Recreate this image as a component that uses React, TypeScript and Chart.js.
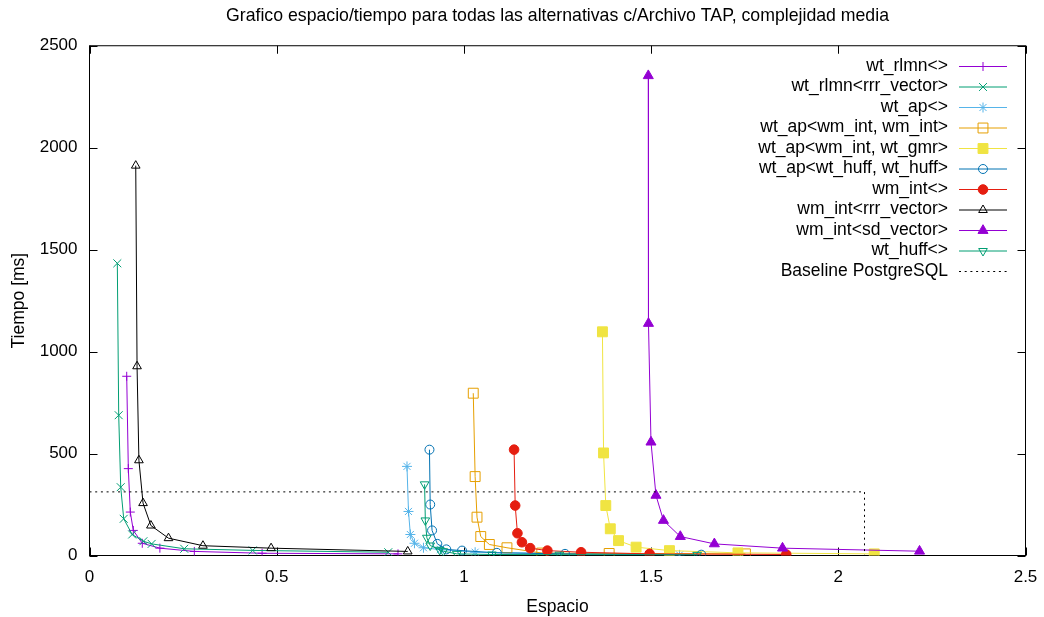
import React, { useEffect, useRef } from 'react';
import { Chart, registerables } from 'chart.js';
import { drawPoint } from 'chart.js/helpers';

Chart.register(...registerables);

const TITLE = 'Grafico espacio/tiempo para todas las alternativas c/Archivo TAP, complejidad media';
const X_LABEL = 'Espacio';
const Y_LABEL = 'Tiempo [ms]';

const rlmnX = [0.0994, 0.1037, 0.109, 0.117, 0.141, 0.188, 0.28, 0.461, 0.824];
const rlmnY = [879, 426, 213, 123, 60, 36, 20, 11, 8];

const rlmnRrrX = [0.0743, 0.078, 0.0834, 0.0914, 0.114, 0.144, 0.166, 0.253, 0.436, 0.798];
const rlmnRrrY = [1433, 688, 335, 180, 103, 70, 57, 33, 25, 16];

const apX = [0.848, 0.852, 0.857, 0.868, 0.892, 0.937, 1.03, 1.576];
const apY = [437, 216, 103, 60, 38, 29, 16, 3];

const apIntIntX = [1.025, 1.03, 1.035, 1.045, 1.068, 1.115, 1.208, 1.388, 1.752];
const apIntIntY = [796, 387, 188, 93, 54, 38, 12, 10, 8];

const apIntGmrX = [1.37, 1.373, 1.379, 1.391, 1.413, 1.46, 1.549, 1.732, 2.096];
const apIntGmrY = [1097, 503, 245, 131, 73, 41, 24, 13, 8];

const apHuffX = [0.908, 0.91, 0.915, 0.929, 0.953, 0.995, 1.088, 1.27, 1.634];
const apHuffY = [519, 250, 123, 57, 30, 24, 13, 8, 4];

const wmIntX = [1.134, 1.137, 1.143, 1.155, 1.177, 1.223, 1.313, 1.496, 1.861];
const wmIntY = [519, 245, 109, 65, 36, 24, 16, 8, 5];

const wmRrrX = [0.1235, 0.127, 0.132, 0.143, 0.164, 0.211, 0.303, 0.485, 0.85];
const wmRrrY = [1912, 928, 467, 257, 147, 85, 48, 36, 20];

const wmSdX = [1.4925, 1.493, 1.4997, 1.513, 1.533, 1.578, 1.669, 1.851, 2.217];
const wmSdY = [2353, 1138, 556, 295, 172, 93, 57, 36, 21];

const huffX = [0.895, 0.897, 0.901, 0.91, 0.935, 0.945, 0.981, 1.075, 1.255, 1.623];
const huffY = [349, 172, 87, 49, 28, 21, 8, 5, 4, 3];

const baselineX = [0, 2.07, 2.07];
const baselineY = [312, 312, 0];

const xTicks = [0, 0.5, 1, 1.5, 2, 2.5];
const yTicks = [0, 500, 1000, 1500, 2000, 2500];

const FONT = '"Liberation Sans", Arial, sans-serif';

const pts = (xs: number[], ys: number[]) => xs.map((x, i) => ({ x, y: ys[i] }));

type SeriesDef = {
  label: string; xs: number[]; ys: number[]; color: string;
  style: any; radius: number; filled: boolean; rotation?: number; dash?: number[];
};

const SERIES: SeriesDef[] = [
  { label: 'wt_rlmn<>', xs: rlmnX, ys: rlmnY, color: '#9400d3', style: 'cross', radius: 4.5, filled: false },
  { label: 'wt_rlmn<rrr_vector>', xs: rlmnRrrX, ys: rlmnRrrY, color: '#009e73', style: 'crossRot', radius: 5.6, filled: false },
  { label: 'wt_ap<>', xs: apX, ys: apY, color: '#56b4e9', style: 'star', radius: 5, filled: false },
  { label: 'wt_ap<wm_int, wm_int>', xs: apIntIntX, ys: apIntIntY, color: '#e69f00', style: 'rect', radius: 7, filled: false },
  { label: 'wt_ap<wm_int, wt_gmr>', xs: apIntGmrX, ys: apIntGmrY, color: '#f0e442', style: 'rect', radius: 7, filled: true },
  { label: 'wt_ap<wt_huff, wt_huff>', xs: apHuffX, ys: apHuffY, color: '#0072b2', style: 'circle', radius: 4.5, filled: false },
  { label: 'wm_int<>', xs: wmIntX, ys: wmIntY, color: '#e51e10', style: 'circle', radius: 4.8, filled: true },
  { label: 'wm_int<rrr_vector>', xs: wmRrrX, ys: wmRrrY, color: '#000000', style: 'triangle', radius: 5, filled: false },
  { label: 'wm_int<sd_vector>', xs: wmSdX, ys: wmSdY, color: '#9400d3', style: 'triangle', radius: 5.8, filled: true },
  { label: 'wt_huff<>', xs: huffX, ys: huffY, color: '#009e73', style: 'triangle', radius: 5, filled: false, rotation: 180 },
  { label: 'Baseline PostgreSQL', xs: baselineX, ys: baselineY, color: '#000000', style: false, radius: 0, filled: false, dash: [2, 3.7] },
];

const framePlugin = {
  id: 'gnuFrame',
  beforeDatasetsDraw(chart: any) {
    const { ctx, chartArea: a, scales } = chart;
    ctx.save();
    ctx.strokeStyle = '#000';
    ctx.lineWidth = 1;
    ctx.setLineDash([]);
    ctx.strokeRect(a.left, a.top, a.right - a.left, a.bottom - a.top);
    const L = 8;
    ctx.beginPath();
    xTicks.forEach((v) => {
      const px = Math.round(scales.x.getPixelForValue(v)) + 0.5;
      ctx.moveTo(px, a.bottom); ctx.lineTo(px, a.bottom - L);
      ctx.moveTo(px, a.top); ctx.lineTo(px, a.top + L);
    });
    yTicks.forEach((v) => {
      const py = Math.round(scales.y.getPixelForValue(v)) + 0.5;
      ctx.moveTo(a.left, py); ctx.lineTo(a.left + L, py);
      ctx.moveTo(a.right, py); ctx.lineTo(a.right - L, py);
    });
    ctx.stroke();
    ctx.restore();
  },
  afterDraw(chart: any) {
    const { ctx } = chart;
    ctx.save();
    ctx.font = `17.5px ${FONT}`;
    ctx.fillStyle = '#000';
    ctx.textAlign = 'right';
    ctx.textBaseline = 'middle';
    chart.data.datasets.forEach((ds: any, i: number) => {
      const y = 66 + i * 20.5;
      ctx.fillText(ds.label, 948, y);
      ctx.strokeStyle = ds.borderColor;
      ctx.lineWidth = 1;
      ctx.setLineDash(ds.borderDash || []);
      ctx.beginPath();
      ctx.moveTo(959, y + 0.5);
      ctx.lineTo(1007, y + 0.5);
      ctx.stroke();
      ctx.setLineDash([]);
      if (ds.pointStyle) {
        ctx.fillStyle = ds.pointBackgroundColor;
        ctx.strokeStyle = ds.borderColor;
        drawPoint(ctx, { pointStyle: ds.pointStyle, radius: ds.pointRadius, rotation: ds.pointRotation || 0, borderWidth: 1 }, 983, y + 0.5);
        ctx.fillStyle = '#000';
      }
    });
    ctx.restore();
  },
};

export default function App() {
  const ref = useRef<HTMLCanvasElement>(null);
  useEffect(() => {
    if (!ref.current) return;
    const n = SERIES.length;
    const chart = new Chart(ref.current, {
      type: 'scatter',
      data: {
        datasets: SERIES.map((s, i) => ({
          label: s.label,
          data: pts(s.xs, s.ys),
          showLine: true,
          borderColor: s.color,
          backgroundColor: s.filled ? s.color : 'rgba(0,0,0,0)',
          pointBackgroundColor: s.filled ? s.color : 'rgba(0,0,0,0)',
          pointBorderColor: s.color,
          pointStyle: s.style,
          pointRadius: s.radius,
          pointRotation: s.rotation || 0,
          pointBorderWidth: 1,
          borderWidth: 1,
          borderDash: s.dash || [],
          tension: 0,
          order: n - i,
        })) as any,
      },
      options: {
        animation: false,
        responsive: false,
        maintainAspectRatio: false,
        events: [],
        layout: { padding: { left: 0, right: 18.5, top: 0, bottom: 0 } },
        plugins: {
          legend: { display: false },
          tooltip: { enabled: false },
          title: {
            display: true,
            fullSize: false,
            text: TITLE,
            color: '#000',
            font: { family: FONT, size: 17.7, weight: 'normal' },
            padding: { top: 5.5, bottom: 19 },
          },
        },
        scales: {
          x: {
            type: 'linear',
            min: 0,
            max: 2.5,
            grid: { display: false, drawTicks: false },
            border: { display: false },
            afterFit: (s: any) => { s.height = 61.5; s.paddingLeft = 0; s.paddingRight = 0; },
            afterBuildTicks: (s: any) => { s.ticks = xTicks.map((v) => ({ value: v })); },
            ticks: {
              color: '#000',
              font: { family: FONT, size: 17 },
              padding: 12,
              maxRotation: 0,
              callback: (v: any) => String(v),
            },
            title: {
              display: true,
              text: X_LABEL,
              color: '#000',
              font: { family: FONT, size: 17.5 },
              padding: { top: 0, bottom: -1 },
            },
          },
          y: {
            type: 'linear',
            min: 0,
            max: 2500,
            grid: { display: false, drawTicks: false },
            border: { display: false },
            afterFit: (s: any) => { s.width = 89.5; s.paddingTop = 0; s.paddingBottom = 0; },
            afterBuildTicks: (s: any) => { s.ticks = yTicks.map((v) => ({ value: v })); },
            ticks: {
              color: '#000',
              font: { family: FONT, size: 17 },
              padding: 12,
              callback: (v: any) => String(v),
            },
            title: {
              display: true,
              text: Y_LABEL,
              color: '#000',
              font: { family: FONT, size: 17.5 },
              padding: { top: 9, bottom: 0 },
            },
          },
        },
      },
      plugins: [framePlugin],
    });
    return () => chart.destroy();
  }, []);
  return (
    <div style={{ position: 'absolute', left: 0, top: 0, width: 1044, height: 617, background: '#fff' }}>
      <canvas ref={ref} width={1044} height={617} />
    </div>
  );
}
